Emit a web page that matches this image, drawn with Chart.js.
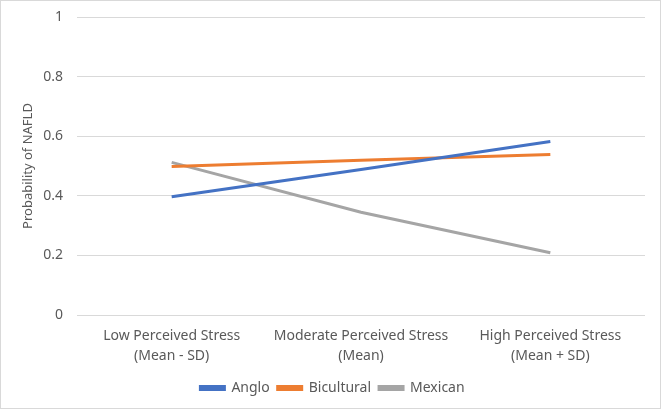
<!DOCTYPE html>
<html>
<head>
<meta charset="utf-8">
<script src="https://cdn.jsdelivr.net/npm/chart.js@4"></script>
<style>
html,body{margin:0;padding:0;background:#fff;}
#wrap{width:661px;height:409px;position:relative;}
</style>
</head>
<body>
<div id="wrap"><canvas id="c" width="661" height="409"></canvas></div>
<script>
const categories = [["Low Perceived Stress","(Mean - SD)"],["Moderate Perceived Stress","(Mean)"],["High Perceived Stress","(Mean + SD)"]];
const anglo = [0.397, 0.488, 0.582];
const bicultural = [0.498, 0.519, 0.539];
const mexican = [0.512, 0.345, 0.209];
const yTicks = [0, 0.2, 0.4, 0.6, 0.8, 1];

const FONT = "'Noto Sans', sans-serif";
const TXT = '#595959';

const borderPlugin = {
  id: 'outerBorder',
  afterDraw(chart){
    const ctx = chart.ctx;
    ctx.save();
    ctx.strokeStyle = '#d9d9d9';
    ctx.lineWidth = 1;
    ctx.strokeRect(0.5, 0.5, chart.width-1, chart.height-1);
    ctx.restore();
  },
  beforeDraw(chart){
    const ctx = chart.ctx;
    ctx.save();
    ctx.fillStyle = '#fff';
    ctx.fillRect(0,0,chart.width,chart.height);
    ctx.restore();
  }
};

new Chart(document.getElementById('c'), {
  type: 'line',
  data: {
    labels: categories,
    datasets: [
      {label:'Anglo', data: anglo, borderColor:'#4472c4', backgroundColor:'#4472c4'},
      {label:'Bicultural', data: bicultural, borderColor:'#ed7d31', backgroundColor:'#ed7d31'},
      {label:'Mexican', data: mexican, borderColor:'#a5a5a5', backgroundColor:'#a5a5a5'}
    ].map(d => Object.assign(d, {borderWidth:3, pointRadius:0, tension:0, fill:false}))
  },
  options: {
    responsive: false,
    animation: false,
    layout: {padding: {left: 20, right: 16, top: 17, bottom: 4}},
    plugins: {
      legend: {
        position: 'bottom',
        labels: {
          color: TXT,
          font: {family: FONT, size: 14},
          boxWidth: 24,
          boxHeight: 3,
          padding: 8
        }
      },
      tooltip: {enabled: false}
    },
    scales: {
      x: {
        offset: true,
        grid: {display: false, drawTicks: false},
        border: {display: false},
        ticks: {color: TXT, font: {family: FONT, size: 14, lineHeight: 1.45}, maxRotation: 0, autoSkip: false, padding: 11},
        afterFit(s){ s.height = 58; s.paddingLeft = 0; s.paddingRight = 0; }
      },
      y: {
        min: 0, max: 1,
        afterBuildTicks(s){ s.ticks = yTicks.map(v => ({value: v})); },
        grid: {color: '#d9d9d9', drawTicks: false, lineWidth: 1},
        border: {display: false},
        ticks: {color: TXT, font: {family: FONT, size: 14}, padding: 14,
          callback: v => String(v)},
        title: {display: true, text: 'Probability of NAFLD', color: TXT, font: {family: FONT, size: 13}, padding: {top: 0, bottom: 4}},
        afterFit(s){ s.width = 57; s.paddingTop = 0; s.paddingBottom = 0; }
      }
    }
  },
  plugins: [borderPlugin]
});
</script>
</body>
</html>
